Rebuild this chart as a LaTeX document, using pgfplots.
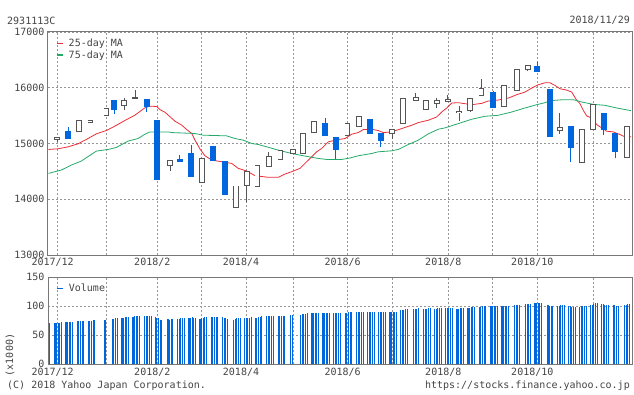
\documentclass[border=0pt]{standalone}
\usepackage{fontspec}
\setmainfont{DejaVu Sans Mono}
\usepackage{pgfplots}
\usepackage{pgfplotstable}
\pgfplotsset{compat=1.18}
\definecolor{cblue}{RGB}{0,102,221}
\definecolor{upgrey}{RGB}{85,85,85}
\definecolor{mared}{RGB}{235,45,55}
\definecolor{magreen}{RGB}{35,170,105}
\definecolor{gridgray}{RGB}{150,150,150}
\definecolor{framegray}{RGB}{120,120,120}
\definecolor{textgray}{RGB}{68,68,68}
\newcommand{\fnt}{\fontsize{10}{12}\selectfont}
% weekly candles: x (px position), open, high, low, close
\pgfplotstableread{
x o h l c
57 15071 15113 15018 15113
79.3 15214 15411 15214 15411
90.3 15375 15417 15375 15417
106.3 15500 15625 15500 15625
124 15679 15815 15607 15774
135 15808 15958 15798 15822
170 14607 14696 14512 14696
202 14298 14732 14298 14732
235.7 13851 14238 13851 14238
246.7 14250 14500 13958 14500
257.3 14232 14607 14232 14607
268.7 14589 14839 14589 14768
280.3 14714 14875 14714 14875
292.7 14821 14893 14821 14893
302.7 14815 15179 14815 15179
314 15196 15393 15196 15393
347.3 15149 15357 15149 15357
358.7 15304 15500 15304 15482
392 15173 15250 15089 15250
402.7 15357 15804 15357 15804
415.7 15768 15899 15768 15821
425.7 15607 15768 15607 15768
436.7 15714 15821 15637 15768
447.7 15750 15875 15750 15792
459 15550 15667 15405 15580
470 15589 15804 15565 15804
481.3 15857 16161 15857 15982
504 15661 16036 15661 16036
516.7 15946 16321 15946 16321
527.7 16321 16393 16292 16393
559.7 15232 15542 15173 15286
581.7 14661 15250 14661 15250
592.7 15250 15696 15250 15696
626.7 14750 15304 14750 15304
}\uptable
\pgfplotstableread{
x o h l c
68 15232 15298 15083 15083
114.3 15786 15786 15530 15607
146.7 15804 15804 15565 15655
157.3 15417 15417 14345 14345
179.7 14720 14792 14667 14667
191 14827 14970 14405 14405
213.3 14952 14952 14685 14685
224.7 14685 14685 14083 14083
325 15363 15452 15137 15137
335.7 15113 15113 14714 14887
369.7 15435 15435 15173 15173
380.7 15196 15196 14940 15048
493 15917 15935 15637 15637
537 16399 16470 16280 16280
550 15970 15970 15119 15119
570.7 15310 15310 14673 14923
603.7 15542 15542 15149 15250
615.3 15185 15185 14732 14851
}\dntable
\pgfplotsset{
  chartstyle/.style={
    scale only axis, width=584pt,
    xmin=48, xmax=632,
    xtick={57.7,106.7,157.3,201.7,246,293.3,347.7,392.3,448.3,492.7,537.3,593.3},
    xticklabels={2017/12,,2018/2,,2018/4,,2018/6,,2018/8,,2018/10,},
    scaled y ticks=false, scaled x ticks=false,
    grid=major, grid style={gridgray, line width=0.8pt, dash pattern=on 2pt off 2pt},
    axis line style={framegray, line width=1pt},
    major tick length=0pt,
    tick label style={font=\fnt, text=textgray},
    xticklabel style={xshift=-5pt},
    /pgf/number format/1000 sep={}, /pgf/number format/assume math mode=true,
    legend cell align=left,
    legend image code/.code={\draw[#1, line width=1.3pt] (0pt,0pt) -- (6pt,0pt); \path (9.5pt,0pt);},
    legend style={at={(0,1)}, anchor=north west, xshift=7pt, yshift=-3.5pt, draw=none, fill=none,
      font=\fnt, text=textgray, inner sep=1pt, row sep=-1.2pt},
  },
  cnd/.style={draw=none, mark=none, forget plot, error bars/.cd, y dir=plus, y explicit, error mark=none,
    error bar style={draw=#1}},
}
\begin{document}
\begin{tikzpicture}
\useasboundingbox (0,0) rectangle (634pt,394pt);
\begin{axis}[chartstyle, at={(48pt,139pt)}, anchor=south west, height=223pt,
  ymin=13000, ymax=17000, ytick={13000,14000,15000,16000,17000}]
\addplot[mared, line width=0.8pt, mark=none] coordinates {
(48.5,14893)(58,14905)(68,14940)(78,14994)(83,15042)(88,15089)(96.3,15173)(106.3,15232)
(114.7,15310)(124.7,15411)(134.7,15506)(144.7,15637)(149.7,15670)(156.7,15664)(160,15607)
(165,15560)(170,15480)(175,15400)(181.7,15330)(186.7,15250)(191.7,15180)(195,15060)
(200,14900)(205,14780)(211.7,14702)(221.7,14673)(231.7,14643)(238.3,14554)(246.7,14506)
(255,14423)(268.3,14393)(278.3,14393)(285,14452)(291.7,14494)(300,14554)(305,14643)
(311.7,14762)(316.7,14851)(321.7,14911)(328.3,15030)(338.3,15071)(345,15089)(351.7,15167)
(358.3,15196)(363.3,15250)(371.7,15256)(378.3,15232)(383.3,15196)(391.7,15208)(401.7,15268)
(411.7,15327)(418.3,15375)(428.3,15417)(436.7,15476)(441.7,15565)(447,15640)(451.7,15726)
(458.3,15732)(471.7,15696)(481.7,15720)(488.3,15762)(498.3,15780)(508.3,15815)(516.7,15875)
(525,15923)(531.7,15994)(538.3,16054)(545,16089)(550,16089)(555,16042)(560,15982)
(566.7,15958)(571.7,15923)(576.7,15774)(580,15714)(583.3,15595)(586.7,15494)(591.7,15458)
(596.7,15339)(601.7,15280)(606.7,15220)(613.3,15208)(620,15161)(623.3,15131)(631,15119)};
\addlegendentry{25-day MA}
\addplot[magreen, line width=0.8pt, mark=none] coordinates {
(48.5,14464)(61.3,14524)(71.3,14613)(81.3,14685)(91.3,14804)(96.3,14863)(108,14893)
(116.3,14929)(128,15042)(138,15089)(145,15167)(150,15208)(168.3,15208)(171.7,15196)
(195,15179)(203.3,15149)(226.7,15137)(235,15089)(243.3,15060)(251.7,15000)(258.3,14982)
(266.7,14940)(278.3,14881)(291.7,14821)(303.3,14780)(318.3,14732)(326.7,14714)(341.7,14714)
(350,14740)(358.3,14780)(371.7,14821)(378.3,14851)(391.7,14869)(398.3,14893)(408.3,14982)
(418.3,15060)(428.3,15173)(438.3,15256)(445,15280)(458.3,15357)(471.7,15435)(485,15488)
(498.3,15506)(511.7,15565)(525,15637)(536.7,15696)(545,15732)(550,15768)(563.3,15786)
(573.3,15786)(581.7,15744)(593.3,15702)(605,15685)(616.7,15637)(631,15589)};
\addlegendentry{75-day MA}
% up candles: wick, grey body, white inside
\addplot[cnd={upgrey, line width=0.9pt}] table[x=x, y=l, y error expr={\thisrow{h}-\thisrow{l}}] {\uptable};
\addplot[cnd={upgrey, line width=5.6pt}] table[x=x, y expr={\thisrow{o}-8}, y error expr={\thisrow{c}-\thisrow{o}+16}] {\uptable};
\addplot[cnd={white, line width=3.8pt}] table[x=x, y expr={\thisrow{o}+8}, y error expr={max(\thisrow{c}-\thisrow{o}-16,0)}] {\uptable};
% down candles: wick, blue body
\addplot[cnd={cblue, line width=0.9pt}] table[x=x, y=l, y error expr={\thisrow{h}-\thisrow{l}}] {\dntable};
\addplot[cnd={cblue, line width=5.8pt}] table[x=x, y=c, y error expr={\thisrow{o}-\thisrow{c}}] {\dntable};
\end{axis}
\begin{axis}[chartstyle, at={(48pt,29.7pt)}, anchor=south west, height=87pt,
  ymin=0, ymax=150, ytick={0,50,100,150}]
\addplot[ycomb, cblue, line width=1.1pt, mark=none] coordinates {
(49.3,71)
(55,71)(56.6,71)(58.2,71)(59.8,72)(61.4,73)
(66,73)(67.6,73)(69.2,73)(70.8,73)(72.4,73)
(77.3,74)(78.9,74)(80.5,75)(82.1,75)(83.7,75)
(88.3,74)(89.9,75)(91.5,75)(93.1,76)(94.7,76)
(104.3,77)(105.9,77)
(112.3,78)(113.9,78)(115.5,79)(117.1,80)
(122,80)(123.6,80)(125.2,81)(126.8,81)(128.4,81)
(133,82)(134.6,83)(136.2,83)(137.8,83)(139.4,83)
(144.7,83)(146.3,83)(147.9,83)(149.5,83)(151.1,83)
(155.3,81)(156.9,80)(158.5,79)(160.1,77)(161.7,77)
(168,78)(169.6,77)(171.2,78)(172.8,78)
(177.7,78)(179.3,78)(180.9,79)(182.5,79)(184.1,79)
(189,80)(190.6,80)(192.2,81)(193.8,80)(195.4,79)
(200,78)(201.6,80)(203.2,80)(204.8,81)(206.4,81)
(211.3,81)(212.9,81)(214.5,81)(216.1,81)(217.7,81)
(222.7,81)(224.3,80)(225.9,80)(227.5,78)
(233.7,77)(235.3,78)(236.9,79)(238.5,79)(240.1,79)
(244.7,79)(246.3,79)(247.9,80)(249.5,80)(251.1,81)
(255.3,79)(256.9,80)(258.5,81)(260.1,82)(261.7,83)
(266.7,83)(268.3,83)(269.9,84)(271.5,84)(273.1,84)
(278.3,84)(279.9,84)(281.5,84)(283.1,84)(284.7,84)
(290.7,85)(292.3,85)
(300.7,85)(302.3,86)(303.9,87)(305.5,87)(307.1,88)
(312,88)(313.6,88)(315.2,89)(316.8,89)(318.4,89)
(323,89)(324.6,89)(326.2,89)(327.8,89)(329.4,89)
(333.7,88)(335.3,88)(336.9,88)(338.5,88)(340.1,88)
(345.3,89)(346.9,89)(348.5,90)(350.1,91)(351.7,91)
(356.7,91)(358.3,91)(359.9,91)(361.5,91)(363.1,91)
(367.7,91)(369.3,91)(370.9,90)(372.5,90)(374.1,90)
(378.7,90)(380.3,90)(381.9,90)(383.5,90)(385.1,90)
(390,91)(391.6,91)(393.2,91)(394.8,91)(396.4,91)
(400.7,93)(402.3,93)(403.9,94)(405.5,95)(407.1,95)
(413.7,95)(415.3,96)(416.9,96)(418.5,97)
(423.7,95)(425.3,96)(426.9,96)(428.5,97)(430.1,97)
(434.7,95)(436.3,96)(437.9,97)(439.5,97)(441.1,97)
(445.7,97)(447.3,97)(448.9,97)(450.5,97)(452.1,97)
(457,95)(458.6,96)(460.2,97)(461.8,97)(463.4,97)
(468,97)(469.6,97)(471.2,98)(472.8,98)(474.4,98)
(479.3,98)(480.9,99)(482.5,100)(484.1,101)(485.7,101)
(491,100)(492.6,100)(494.2,100)(495.8,100)(497.4,100)
(502,100)(503.6,100)(505.2,101)(506.8,101)(508.4,101)
(514.7,102)(516.3,103)(517.9,103)(519.5,103)
(525.7,104)(527.3,104)(528.9,104)(530.5,104)
(535,105)(536.6,105)(538.2,105)(539.8,105)(541.4,105)
(548,102)(549.6,101)(551.2,100)(552.8,100)
(557.7,101)(559.3,101)(560.9,102)(562.5,102)(564.1,102)
(568.7,100)(570.3,100)(571.9,99)(573.5,98)(575.1,98)
(579.7,99)(581.3,100)(582.9,100)(584.5,101)(586.1,101)
(590.7,103)(592.3,103)(593.9,104)(595.5,105)(597.1,105)
(601.7,104)(603.3,104)(604.9,103)(606.5,103)(608.1,103)
(613.3,103)(614.9,102)(616.5,101)(618.1,101)
(624.7,102)(626.3,103)(627.9,104)(629.5,104)};
\addlegendentry{Volume}
\end{axis}
\node[anchor=west, font=\fnt, text=textgray, inner sep=0pt] at (7pt,373.5pt) {2931113C};
\node[anchor=east, font=\fnt, text=textgray, inner sep=0pt] at (630pt,373.5pt) {2018/11/29};
\node[anchor=west, font=\fnt, text=textgray, inner sep=0pt] at (7pt,8pt) {(C) 2018 Yahoo Japan Corporation.};
\node[anchor=east, font=\fnt, text=textgray, inner sep=0pt] at (630pt,8pt) {https://stocks.finance.yahoo.co.jp};
\node[rotate=90, font=\fnt, text=textgray, inner sep=0pt] at (10pt,39pt) {(x1000)};
\end{tikzpicture}
\end{document}
